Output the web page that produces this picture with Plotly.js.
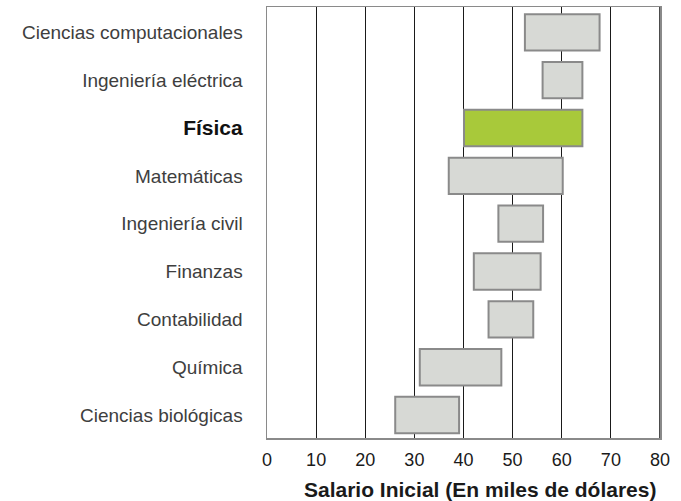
<!DOCTYPE html>
<html>
<head>
<meta charset="utf-8">
<script src="https://cdn.plot.ly/plotly-3.0.1.min.js"></script>
<style>
html,body{margin:0;padding:0;background:#fff;}
#chart{width:681px;height:501px;}
</style>
</head>
<body>
<div id="chart"></div>
<script>
// Categories listed bottom to top
var careers = ["Ciencias biológicas","Química","Contabilidad","Finanzas","Ingeniería civil","Matemáticas","Física","Ingeniería eléctrica","Ciencias computacionales"];
var salaryLow  = [26.1, 31.1, 45.1, 42.1, 47.1, 37.0, 40.1, 56.1, 52.5];
var salaryHigh = [39.1, 47.7, 54.2, 55.7, 56.2, 60.2, 64.2, 64.2, 67.7];
var highlight = "Física";
var xTicks = [0,10,20,30,40,50,60,70,80];
var xTitle = "Salario Inicial (En miles de dólares)";

var spans = salaryHigh.map(function(h,i){return h - salaryLow[i];});
var fills = careers.map(function(c){return c===highlight ? "#a8c93a" : "#d7d9d5";});
var tickText = careers.map(function(c){
  return c===highlight ? '<b><span style="color:#111;font-size:21px">'+c+'</span></b>' : c;
});

var trace = {
  type: "bar",
  orientation: "h",
  y: careers,
  x: spans,
  base: salaryLow,
  width: 0.76,
  marker: {color: fills, line: {color: "#8a8a8a", width: 2}},
  hoverinfo: "skip"
};

var layout = {
  width: 681, height: 501,
  margin: {l: 266.5, r: 21, t: 7, b: 63.3},
  paper_bgcolor: "#fff", plot_bgcolor: "#fff",
  showlegend: false,
  font: {family: "'Liberation Sans', Arial, Helvetica, sans-serif", color: "#3a3a3a"},
  xaxis: {
    range: [0, 80],
    tickvals: xTicks,
    ticktext: xTicks.map(String),
    showgrid: true, gridcolor: "#1a1a1a", gridwidth: 1,
    zeroline: false,
    showline: true, linecolor: "#8a8a8a", linewidth: 1.5, mirror: true,
    ticks: "",
    ticklabelstandoff: 5,
    tickfont: {size: 18, color: "#1a1a1a"},
    fixedrange: true
  },
  yaxis: {
    type: "category",
    categoryorder: "array",
    categoryarray: careers,
    tickvals: careers,
    ticktext: tickText,
    range: [-0.48, 8.53],
    showgrid: false, zeroline: false,
    showline: true, linecolor: "#8a8a8a", linewidth: 1.5, mirror: true,
    ticks: "",
    ticklabelstandoff: 19,
    tickfont: {size: 19, color: "#3e3e3e"},
    fixedrange: true
  },
  annotations: [
    {text: "<b>" + xTitle + "</b>", xref: "paper", yref: "paper", x: 0.5426, y: -0.119,
     xanchor: "center", yanchor: "middle", showarrow: false,
     font: {size: 21, color: "#1a1a1a"}}
  ],
  shapes: [
    {type: "line", xref: "x", yref: "paper", x0: 80, x1: 80, y0: 0, y1: 1,
     line: {color: "#111", width: 1.5}, layer: "above"}
  ]
};

Plotly.newPlot("chart", [trace], layout, {displayModeBar: false, staticPlot: true});
</script>
</body>
</html>
